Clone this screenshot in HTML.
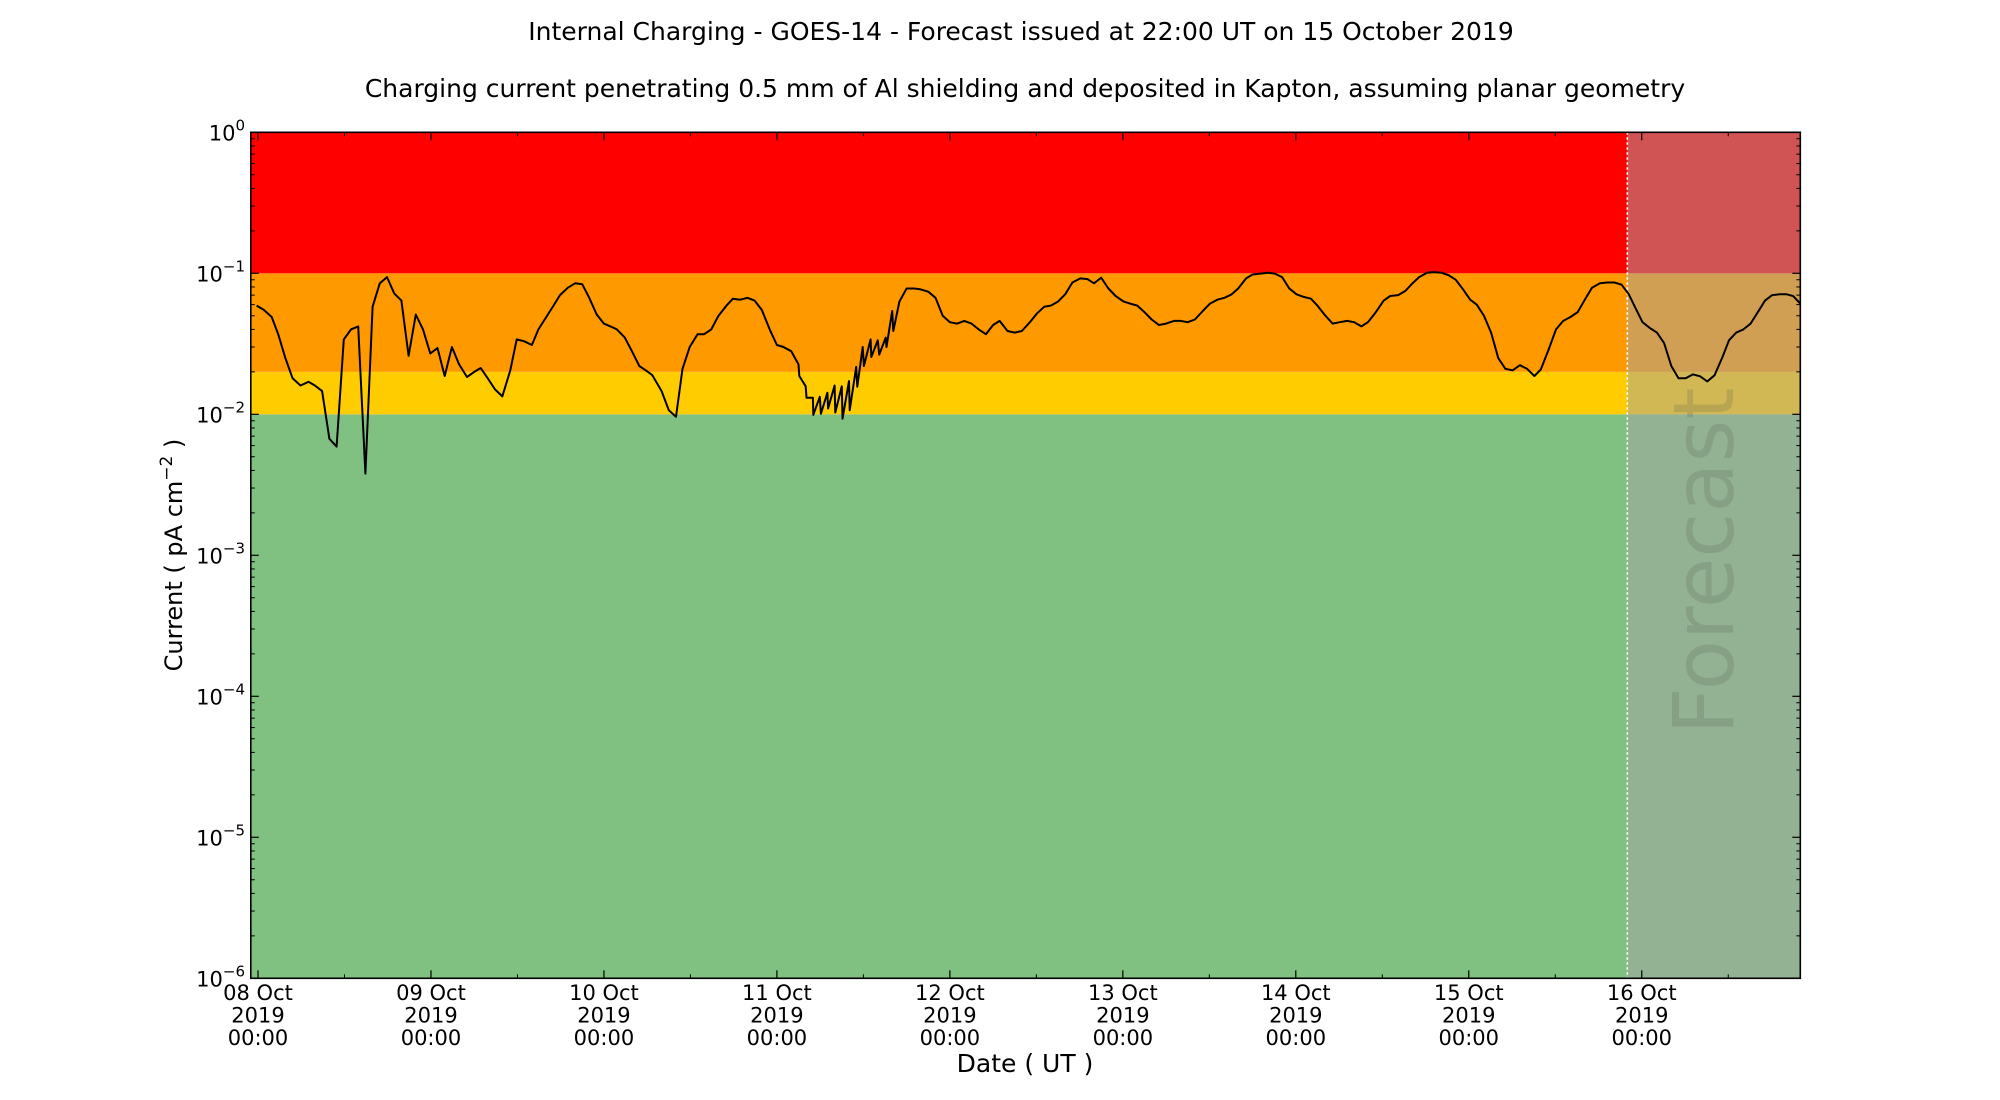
<!DOCTYPE html>
<html><head><meta charset="utf-8"><style>
html,body{margin:0;padding:0;background:#fff;}
svg{display:block;font-family:"DejaVu Sans","Liberation Sans",sans-serif;}
</style></head><body>
<svg id="chart" width="2000" height="1100" viewBox="0 0 2000 1100" xmlns="http://www.w3.org/2000/svg">
<text x="1021" y="40" font-size="25" text-anchor="middle">Internal Charging - GOES-14 - Forecast issued at 22:00 UT on 15 October 2019</text>
<text x="1025" y="97" font-size="25" text-anchor="middle">Charging current penetrating 0.5 mm of Al shielding and deposited in Kapton, assuming planar geometry</text>
<g id="bands"></g>
<g id="forecast"></g>
<g id="series"></g>
<g id="axes"></g>
<text transform="translate(182,555) rotate(-90)" font-size="24" text-anchor="middle">Current ( pA cm<tspan font-size="17" dy="-10">−2</tspan><tspan dy="10"> )</tspan></text>
<text x="1025" y="1072" font-size="25" text-anchor="middle">Date ( UT )</text>
</svg>
<script>
const hours = [-0.2,0.8,1.9,2.8,3.8,4.8,5.9,7.0,7.9,8.9,9.9,10.9,11.9,12.9,13.9,14.9,15.9,16.9,17.9,18.9,19.9,20.9,21.9,22.9,23.9,24.9,25.9,26.9,27.9,29.0,30.0,30.9,31.9,32.9,33.9,35.0,35.9,36.9,38.0,38.9,40.0,41.0,41.9,43.0,44.0,45.0,45.9,47.0,48.0,48.9,49.8,50.9,51.9,52.9,53.8,54.7,56.0,57.0,58.0,58.9,59.9,61.0,61.9,62.9,63.9,65.0,65.9,66.9,67.9,68.9,69.9,71.0,72.0,72.9,74.0,75.0,75.1,76.0,76.1,77.0,77.05,77.95,78.1,79.0,79.1,80.0,80.1,81.0,81.1,82.0,82.1,83.0,83.15,83.9,84.07,85.0,85.1,86.0,86.2,87.1,87.2,88.0,88.15,89.0,90.0,91.0,91.9,93.0,94.0,95.0,96.0,97.0,98.0,99.0,100.0,101.0,102.0,102.9,104.0,105.0,106.0,107.1,108.1,109.1,110.0,111.0,112.0,113.0,114.1,115.1,116.0,117.0,118.0,119.0,120.1,121.0,122.0,123.0,124.0,125.0,126.0,127.1,128.0,129.0,130.0,131.1,132.1,133.1,134.1,135.1,136.0,137.1,138.0,139.1,140.1,141.1,142.1,143.1,144.1,145.1,146.1,147.0,148.1,149.1,150.1,151.1,152.1,153.1,154.0,155.1,156.2,157.1,158.2,159.2,160.1,161.1,162.2,163.2,164.2,165.2,166.2,167.2,168.2,169.1,170.1,171.1,172.1,173.1,174.1,175.1,176.1,177.1,178.0,179.1,180.1,181.1,182.1,183.1,184.1,185.1,186.2,187.2,188.2,189.2,190.2,191.1,192.1,193.1,194.1,195.1,196.1,197.1,198.1,199.1,200.1,201.1,202.1,203.2,204.1,205.1,206.1,207.1,208.1,209.1,210.1,211.1,212.1,213.0,214.0];
const currents = [0.059,0.055,0.049,0.037,0.025,0.018,0.016,0.017,0.016,0.0146,0.0067,0.0059,0.034,0.040,0.042,0.0038,0.058,0.085,0.094,0.072,0.064,0.026,0.051,0.040,0.027,0.0295,0.0187,0.030,0.0226,0.0184,0.020,0.0213,0.0179,0.015,0.0134,0.0205,0.034,0.033,0.031,0.040,0.049,0.059,0.070,0.079,0.085,0.0835,0.068,0.051,0.044,0.042,0.040,0.035,0.028,0.022,0.0205,0.019,0.0146,0.0107,0.0096,0.021,0.030,0.037,0.037,0.040,0.050,0.059,0.066,0.065,0.067,0.064,0.055,0.040,0.031,0.030,0.028,0.0226,0.0187,0.0158,0.0131,0.0131,0.0099,0.0133,0.0101,0.0142,0.011,0.016,0.0103,0.0158,0.0093,0.0172,0.0107,0.0217,0.0157,0.030,0.022,0.034,0.0255,0.0335,0.0265,0.035,0.030,0.054,0.039,0.063,0.078,0.078,0.077,0.074,0.067,0.050,0.045,0.044,0.046,0.044,0.040,0.037,0.043,0.046,0.039,0.038,0.039,0.045,0.052,0.058,0.059,0.063,0.071,0.086,0.092,0.091,0.085,0.093,0.078,0.069,0.063,0.061,0.059,0.053,0.047,0.043,0.044,0.046,0.046,0.045,0.047,0.054,0.061,0.065,0.067,0.071,0.078,0.092,0.098,0.0995,0.101,0.0995,0.094,0.078,0.071,0.068,0.066,0.059,0.050,0.044,0.045,0.046,0.045,0.042,0.045,0.053,0.064,0.069,0.070,0.075,0.084,0.094,0.101,0.102,0.101,0.097,0.090,0.077,0.065,0.060,0.050,0.038,0.025,0.021,0.0205,0.0223,0.021,0.0187,0.0208,0.029,0.040,0.046,0.049,0.053,0.065,0.079,0.085,0.086,0.086,0.083,0.071,0.057,0.045,0.041,0.038,0.032,0.022,0.018,0.018,0.0192,0.0186,0.0171,0.0189,0.0255,0.0335,0.038,0.040,0.044,0.053,0.064,0.070,0.071,0.071,0.069,0.061];
const bandLimits = [1e-6, 0.01, 0.02, 0.1, 1];
const bandColors = ['#80c080','#ffcc00','#ff9900','#ff0000'];
const dayLabels = ['08 Oct','09 Oct','10 Oct','11 Oct','12 Oct','13 Oct','14 Oct','15 Oct','16 Oct'];
const yExponents = [0,-1,-2,-3,-4,-5,-6];
const forecastStartHour = 190;
const xDomain = [-1, 214];

const NS='http://www.w3.org/2000/svg';
const L=250.8, R=1800.3, T=132.3, B=978.3;
function xs(h){return L+(h-xDomain[0])/(xDomain[1]-xDomain[0])*(R-L);}
function ys(v){const lv=Math.log10(v);return T+(0-lv)/6*(B-T);}
function mk(tag,attrs,parent){const e=document.createElementNS(NS,tag);for(const k in attrs)e.setAttribute(k,attrs[k]);parent.appendChild(e);return e;}

const bands=document.getElementById('bands');
for(let i=0;i<bandColors.length;i++){
  const r=mk('rect',{x:L,y:ys(bandLimits[i+1]),width:R-L,height:ys(bandLimits[i])-ys(bandLimits[i+1]),fill:bandColors[i]},bands);
  
  
}
const fg=document.getElementById('forecast');
const fx=xs(forecastStartHour);
const ov=mk('rect',{x:fx,y:T,width:R-fx,height:B-T,fill:'rgb(165,165,165)','fill-opacity':0.51},fg);


const fl=mk('line',{x1:fx,y1:T,x2:fx,y2:B,stroke:'#fff','stroke-width':1.6,'stroke-dasharray':'2.5,2.5'},fg);


const ft=mk('text',{transform:'translate(1733,561) rotate(-90)','font-size':84,'text-anchor':'middle',fill:'#505a50','fill-opacity':0.2,textLength:347,lengthAdjust:'spacingAndGlyphs'},fg);
ft.textContent='Forecast';



const sg=document.getElementById('series');
let d='';
for(let i=0;i<hours.length;i++){d+=(i?'L':'M')+xs(hours[i]).toFixed(1)+','+ys(currents[i]).toFixed(1);}
const ln=mk('path',{d:d,fill:'none',stroke:'#000','stroke-width':2,'stroke-linejoin':'round'},sg);



const ax=document.getElementById('axes');
const fr=mk('rect',{x:L,y:T,width:R-L,height:B-T,fill:'none',stroke:'#000','stroke-width':1.6},ax);


for(const e of yExponents){
  const y=ys(Math.pow(10,e));
  mk('line',{x1:L,y1:y,x2:L+8,y2:y,stroke:'#000','stroke-width':1.2},ax);
  mk('line',{x1:R,y1:y,x2:R-8,y2:y,stroke:'#000','stroke-width':1.2},ax);
  const t=mk('text',{x:245,y:y+8,'font-size':21,'text-anchor':'end'},ax);
  
  
  const b=document.createElementNS(NS,'tspan');b.textContent='10';t.appendChild(b);
  const s=document.createElementNS(NS,'tspan');s.setAttribute('font-size','15');s.setAttribute('dy','-10');
  s.textContent=(e<0?'−':'')+Math.abs(e);t.appendChild(s);
  if(e>-6){for(let m=2;m<=9;m++){const yy=ys(m*Math.pow(10,e-1));
    mk('line',{x1:L,y1:yy,x2:L+4,y2:yy,stroke:'#000','stroke-width':1},ax);
    mk('line',{x1:R,y1:yy,x2:R-4,y2:yy,stroke:'#000','stroke-width':1},ax);}}
}
for(let i=0;i<dayLabels.length;i++){
  const h=i*24, x=xs(h);
  mk('line',{x1:x,y1:B,x2:x,y2:B-8,stroke:'#000','stroke-width':1.2},ax);
  mk('line',{x1:x,y1:T,x2:x,y2:T+8,stroke:'#000','stroke-width':1.2},ax);
  const xm=xs(h+12);
  if(h+12<=xDomain[1]){mk('line',{x1:xm,y1:B,x2:xm,y2:B-4,stroke:'#000','stroke-width':1},ax);
    mk('line',{x1:xm,y1:T,x2:xm,y2:T+4,stroke:'#000','stroke-width':1},ax);}
  const lines=[dayLabels[i],'2019','00:00'];
  for(let k=0;k<3;k++){
    const t=mk('text',{x:x,y:1000+k*22.5,'font-size':21,'text-anchor':'middle'},ax);
    t.textContent=lines[k];
    
    
  }
}
</script>
</body></html>
